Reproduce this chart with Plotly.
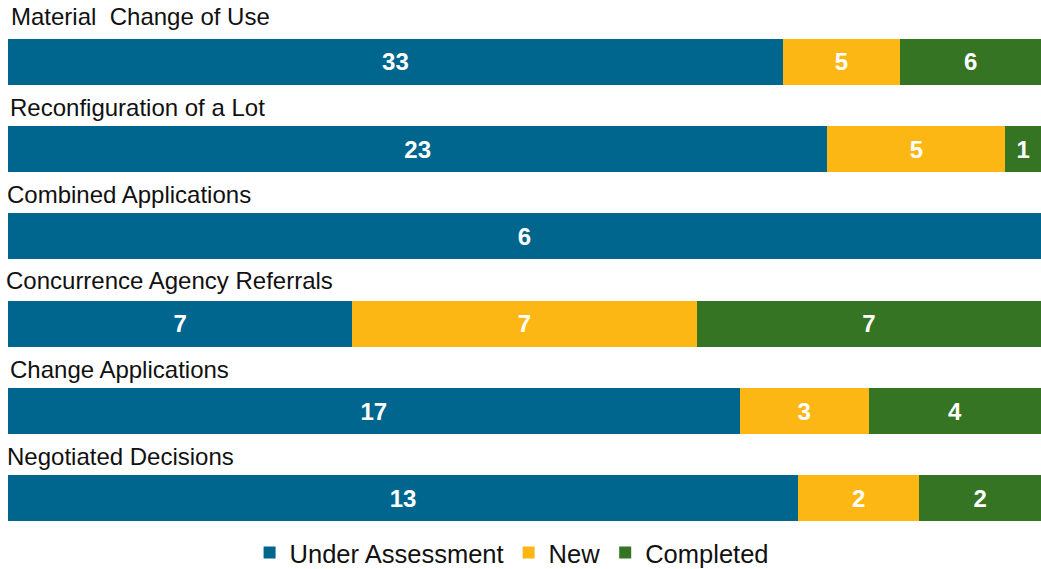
import plotly.graph_objects as go

categories = ["Material\u00a0 Change of Use", "Reconfiguration of a Lot", "Combined Applications",
              "Concurrence Agency Referrals", "Change Applications", "Negotiated Decisions"]
under_assessment = [33, 23, 6, 7, 17, 13]
new = [5, 5, 0, 7, 3, 2]
completed = [6, 1, 0, 7, 4, 2]

series = [("Under Assessment", under_assessment, "#00668E"),
          ("New", new, "#FDB714"),
          ("Completed", completed, "#357423")]

fig = go.Figure()
for name, vals, color in series:
    fig.add_trace(go.Bar(
        y=categories, x=vals, name=name, orientation="h",
        marker=dict(color=color, line=dict(width=0)),
        text=[str(v) if v else "" for v in vals],
        textposition="inside", insidetextanchor="middle",
        textfont=dict(color="white", size=24, family="Liberation Sans", weight="bold"),
        textangle=0, constraintext="none",
        hoverinfo="skip",
    ))

label_dx = [1, 0, -3, -4, 0, -3]
label_dy = [45, 42, 42, 43, 42, 42]
for c, dx, dy in zip(categories, label_dx, label_dy):
    fig.add_annotation(x=0, xref="paper", y=c, yref="y", text=c, showarrow=False,
                       xanchor="left", yanchor="middle", yshift=dy, xshift=dx,
                       font=dict(size=24, color="#111111", family="Liberation Sans"))

fig.update_layout(
    width=1041, height=569,
    barmode="stack", barnorm="percent", bargap=0.474,
    margin=dict(l=8, r=0, t=18, b=27, autoexpand=False),
    plot_bgcolor="white", paper_bgcolor="white",
    font=dict(family="Liberation Sans", color="#111111"),
    xaxis=dict(visible=False, range=[0, 100], fixedrange=True),
    yaxis=dict(visible=False, autorange=False, range=[5.5, -0.5], type="category", fixedrange=True),
    legend=dict(orientation="h", x=0.4875, xanchor="center", y=-0.021, yanchor="middle",
                font=dict(size=25.5, color="#111111"), traceorder="normal"),
    showlegend=True,
)

fig.write_html("out.html", config={"displayModeBar": False},
               post_script="document.body.style.margin='0px';document.body.style.overflow='hidden';")
